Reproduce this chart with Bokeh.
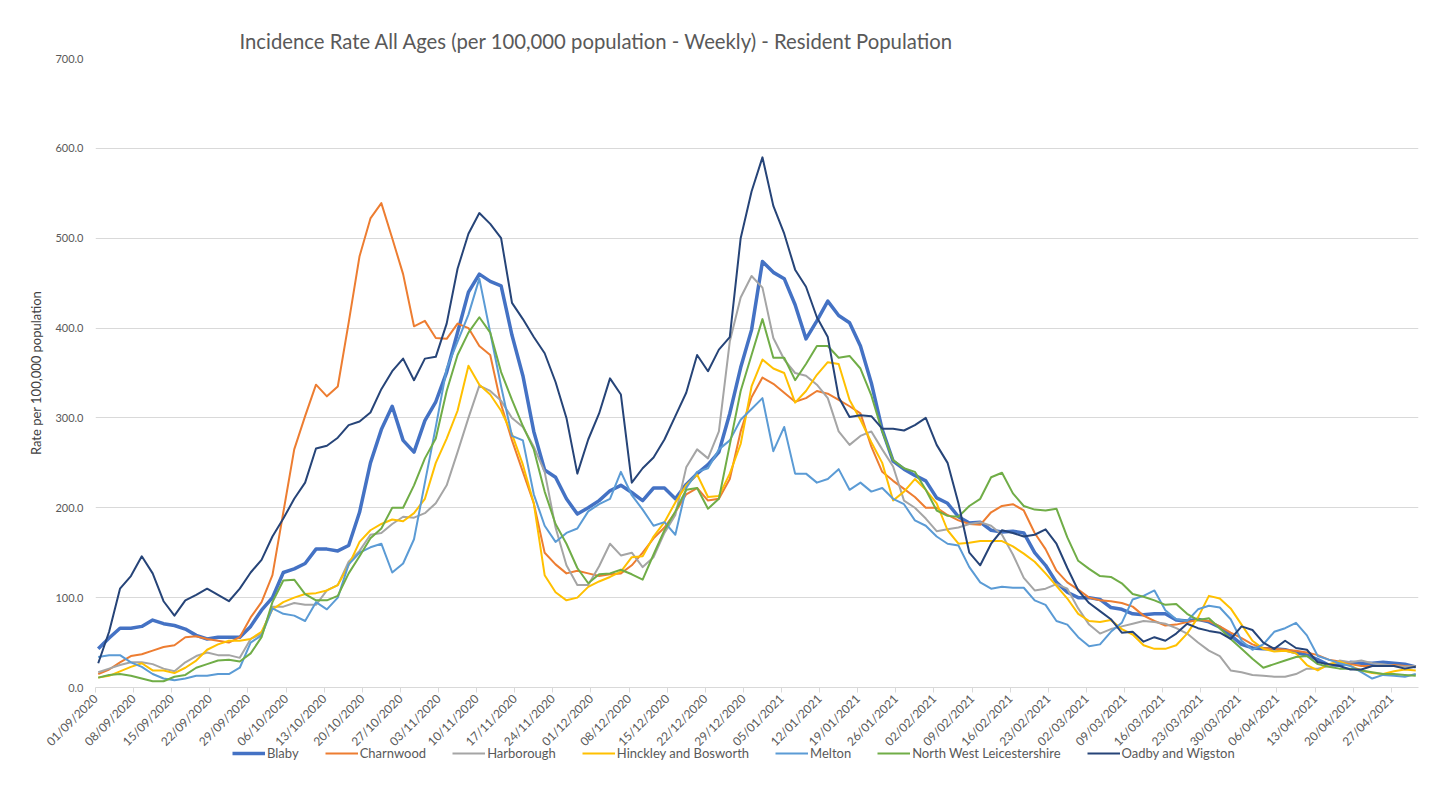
import math
import pandas as pd
from bokeh.plotting import figure
from bokeh.layouts import column
from bokeh.models import (FixedTicker, NumeralTickFormatter, DatetimeTickFormatter,
                          Legend, LegendItem, Range1d)
from bokeh.embed import file_html
from bokeh.resources import INLINE

# ---------------- data (every 2nd day) ----------------
start_date = "2020-09-01"
n_points = 122
tick_dates = pd.date_range("2020-09-01", "2021-04-27", freq="7D")

blaby = [43, 55, 66, 66, 68, 75, 71, 69, 65, 58,
         54, 56, 56, 56, 68, 86, 100, 128, 132, 138,
         154, 154, 152, 158, 195, 250, 287, 313, 275, 262,
         297, 318, 351, 395, 440, 460, 452, 447, 392, 347,
         285, 242, 234, 210, 193, 200, 208, 219, 225, 217,
         208, 222, 222, 210, 226, 238, 248, 262, 305, 356,
         398, 474, 462, 455, 426, 388, 408, 430, 414, 406,
         380, 339, 287, 252, 243, 236, 230, 211, 205, 190,
         183, 184, 175, 173, 174, 172, 150, 136, 117, 106,
         100, 100, 98, 89, 87, 82, 81, 82, 82, 75,
         74, 76, 73, 67, 58, 48, 44, 43, 43, 42,
         39, 36, 31, 25, 25, 28, 27, 27, 28, 27,
         26, 23]

charnwood = [15, 20, 28, 35, 37, 41, 45, 47, 56, 57,
             54, 52, 50, 56, 78, 95, 125, 195, 265, 302,
             337, 324, 335, 406, 480, 522, 539, 500, 460, 402,
             408, 389, 388, 405, 400, 380, 370, 315, 275, 240,
             205, 150, 137, 127, 130, 127, 124, 126, 127, 136,
             150, 166, 178, 195, 215, 222, 208, 210, 232, 285,
             323, 345, 338, 328, 318, 322, 330, 327, 320, 313,
             305, 268, 240, 230, 221, 212, 200, 200, 192, 186,
             182, 181, 195, 202, 204, 197, 172, 154, 130, 117,
             109, 100, 97, 96, 94, 90, 80, 74, 69, 70,
             73, 75, 74, 68, 61, 55, 48, 44, 43, 42,
             41, 39, 36, 31, 29, 26, 24, 24, 24, 25,
             24, 23]

harborough = [17, 21, 25, 28, 28, 26, 21, 18, 28, 35,
              39, 36, 36, 33, 54, 60, 90, 90, 94, 92,
              92, 108, 114, 140, 152, 170, 172, 182, 190, 189,
              194, 205, 225, 262, 300, 336, 330, 319, 300, 290,
              268, 240, 178, 136, 114, 114, 135, 160, 147, 150,
              134, 145, 172, 192, 245, 265, 255, 285, 385, 434,
              458, 445, 389, 365, 350, 347, 337, 322, 285, 270,
              280, 285, 265, 246, 208, 200, 188, 174, 176, 178,
              182, 184, 180, 170, 148, 122, 108, 110, 115, 110,
              88, 70, 60, 65, 68, 71, 74, 73, 71, 66,
              60, 50, 41, 35, 19, 17, 14, 13, 12, 12,
              15, 21, 21, 24, 30, 28, 30, 27, 26, 24,
              23, 24]

hinckley = [11, 13, 18, 23, 27, 19, 19, 16, 22, 30,
            42, 48, 52, 52, 54, 62, 87, 95, 100, 104,
            105, 108, 114, 136, 162, 175, 182, 187, 185, 194,
            210, 250, 277, 308, 358, 337, 326, 308, 282, 248,
            205, 125, 106, 97, 100, 112, 118, 123, 129, 145,
            146, 168, 184, 206, 225, 237, 212, 213, 238, 271,
            335, 365, 355, 350, 317, 330, 348, 362, 360, 320,
            298, 273, 250, 208, 218, 232, 220, 205, 175, 160,
            161, 163, 163, 163, 157, 149, 140, 127, 113, 99,
            82, 74, 73, 75, 65, 59, 47, 43, 43, 47,
            60, 78, 102, 99, 88, 70, 52, 43, 40, 41,
            38, 25, 19, 26, 29, 24, 19, 16, 15, 18,
            20, 19]

melton = [34, 36, 36, 28, 23, 15, 10, 8, 10, 13,
          13, 15, 15, 22, 50, 58, 88, 82, 80, 74,
          95, 87, 100, 137, 150, 156, 160, 128, 138, 165,
          228, 290, 355, 385, 415, 455, 395, 335, 280, 275,
          215, 180, 162, 172, 177, 196, 204, 210, 240, 214,
          198, 180, 184, 170, 222, 240, 244, 265, 275, 298,
          310, 322, 263, 290, 238, 238, 228, 232, 243, 220,
          228, 218, 222, 210, 204, 186, 180, 168, 160, 158,
          134, 117, 110, 112, 111, 111, 97, 92, 74, 70,
          56, 46, 48, 62, 72, 98, 102, 108, 86, 76,
          74, 87, 91, 89, 76, 52, 42, 48, 62, 66,
          72, 58, 35, 31, 27, 24, 17, 10, 14, 13,
          12, 15]

nw_leics = [11, 14, 15, 13, 10, 7, 7, 12, 14, 22,
            26, 30, 31, 29, 38, 56, 95, 119, 120, 104,
            97, 97, 102, 127, 146, 166, 177, 200, 200, 225,
            255, 277, 330, 370, 395, 412, 395, 351, 320, 291,
            265, 218, 182, 160, 133, 116, 126, 127, 131, 126,
            120, 148, 175, 196, 220, 222, 199, 210, 270, 330,
            370, 410, 367, 367, 342, 360, 380, 380, 367, 369,
            355, 325, 285, 253, 244, 240, 220, 197, 191, 190,
            202, 210, 234, 239, 216, 202, 198, 197, 199, 167,
            141, 132, 124, 123, 116, 104, 101, 97, 92, 93,
            82, 75, 77, 66, 54, 43, 32, 22, 26, 30,
            34, 35, 26, 23, 21, 21, 19, 17, 15, 15,
            14, 13]

oadby = [27, 62, 110, 124, 146, 127, 96, 80, 97, 103,
         110, 103, 96, 110, 128, 142, 168, 188, 210, 228,
         266, 269, 278, 292, 296, 306, 332, 352, 366, 342,
         366, 368, 405, 466, 505, 528, 516, 500, 428, 410,
         390, 372, 340, 300, 238, 276, 305, 344, 326, 228,
         244, 256, 276, 302, 328, 370, 352, 376, 390, 500,
         552, 590, 536, 505, 465, 446, 412, 390, 323, 301,
         303, 302, 288, 288, 286, 292, 300, 270, 250, 205,
         150, 136, 160, 175, 172, 168, 170, 176, 160, 133,
         108, 94, 85, 76, 61, 62, 51, 56, 52, 60,
         71, 66, 63, 61, 54, 68, 64, 50, 43, 52,
         44, 42, 28, 26, 24, 20, 20, 24, 24, 24,
         21, 23]

series_names = ["Blaby", "Charnwood", "Harborough", "Hinckley and Bosworth",
                "Melton", "North West Leicestershire", "Oadby and Wigston"]
series_values = [blaby, charnwood, harborough, hinckley, melton, nw_leics, oadby]
series_colors = ["#4472C4", "#ED7D31", "#A5A5A5", "#FFC000", "#5B9BD5", "#70AD47", "#264478"]
series_widths = [3.5, 2, 2, 2, 2, 2, 2]

title_text = "Incidence Rate All Ages (per 100,000 population - Weekly) - Resident Population"
y_label = "Rate per 100,000 population"
y_ticks = [0, 100, 200, 300, 400, 500, 600, 700]

# ---------------- main chart ----------------
# each day is a category; points sit in the middle of their day
dates = pd.date_range(start_date, periods=n_points, freq="2D") + pd.Timedelta(hours=12)
x_start = pd.Timestamp(start_date)
x_end = pd.Timestamp("2021-05-02")

FONT = "Lato"
GREY = "#595959"

p = figure(frame_width=1323, frame_height=629, x_axis_type="datetime",
           output_backend="svg", toolbar_location=None,
           x_range=Range1d(x_start, x_end), y_range=Range1d(0, 700),
           min_border_left=95, min_border_right=4, min_border_top=58,
           min_border_bottom=50)

p.title.text = title_text
p.title.align = "left"
p.title.offset = 144
p.title.standoff = 12
p.title.text_font = FONT
p.title.text_font_size = "20.3px"
p.title.text_font_style = "normal"
p.title.text_color = GREY

main_renderers = []
for name, vals, col, w in zip(series_names, series_values, series_colors, series_widths):
    main_renderers.append(p.line(dates, vals, line_color=col, line_width=w, line_join="round"))

# y axis
p.yaxis.ticker = FixedTicker(ticks=y_ticks)
p.yaxis.formatter = NumeralTickFormatter(format="0.0")
p.yaxis.axis_line_color = None
p.yaxis.major_tick_line_color = None
p.yaxis.minor_tick_line_color = None
p.yaxis.major_label_text_font = FONT
p.yaxis.major_label_text_font_size = "11px"
p.yaxis.major_label_text_color = GREY
p.yaxis.major_label_standoff = 6
p.yaxis.axis_label = y_label
p.yaxis.axis_label_text_font = FONT
p.yaxis.axis_label_text_font_size = "13px"
p.yaxis.axis_label_text_font_style = "normal"
p.yaxis.axis_label_text_color = "#404040"
p.yaxis.axis_label_standoff = 8

# x axis
p.xaxis.ticker = FixedTicker(ticks=[t.value // 10**6 for t in tick_dates])
fmt = "%d/%m/%Y"
p.xaxis.formatter = DatetimeTickFormatter(days=fmt, months=fmt, years=fmt, hours=fmt,
                                          hourmin=fmt, minutes=fmt, minsec=fmt,
                                          seconds=fmt, milliseconds=fmt, microseconds=fmt)
p.xaxis.major_label_orientation = math.pi / 4
p.xaxis.major_label_text_font = FONT
p.xaxis.major_label_text_font_size = "12px"
p.xaxis.major_label_text_color = GREY
p.xaxis.axis_line_color = "#D9D9D9"
p.xaxis.major_tick_line_color = "#D9D9D9"
p.xaxis.major_tick_in = 0
p.xaxis.major_tick_out = 5
p.xaxis.minor_tick_line_color = None
p.xaxis.major_label_standoff = 4

p.xgrid.visible = False
p.ygrid.grid_line_color = "#D9D9D9"
p.outline_line_color = None

# ---------------- legend strip below the chart ----------------
q = figure(width=1422, height=40, output_backend="svg", toolbar_location=None,
           x_axis_location=None, y_axis_location=None,
           x_range=Range1d(0, 1), y_range=Range1d(0, 1),
           min_border=0)
q.grid.visible = False
q.outline_line_color = None
q.background_fill_color = None
q.border_fill_color = None
q.styles = {"margin-top": "-12px"}
# legend keys copy the style of the chart lines (their own points lie outside the strip's range)
legend_renderers = [q.line([-5, -4], [-5, -4], line_color=col, line_width=w)
                    for col, w in zip(series_colors, series_widths)]
legend = Legend(items=[LegendItem(label=n, renderers=[r])
                       for n, r in zip(series_names, legend_renderers)],
                orientation="horizontal", location=(137, 24),
                label_text_font=FONT, label_text_font_size="13px", label_text_color=GREY,
                glyph_width=33, glyph_height=14, spacing=26, label_standoff=2,
                border_line_color=None, background_fill_alpha=0, padding=0, margin=0)
q.add_layout(legend)

layout = column(p, q, spacing=0)
open("out.html", "w").write(file_html(layout, INLINE))
